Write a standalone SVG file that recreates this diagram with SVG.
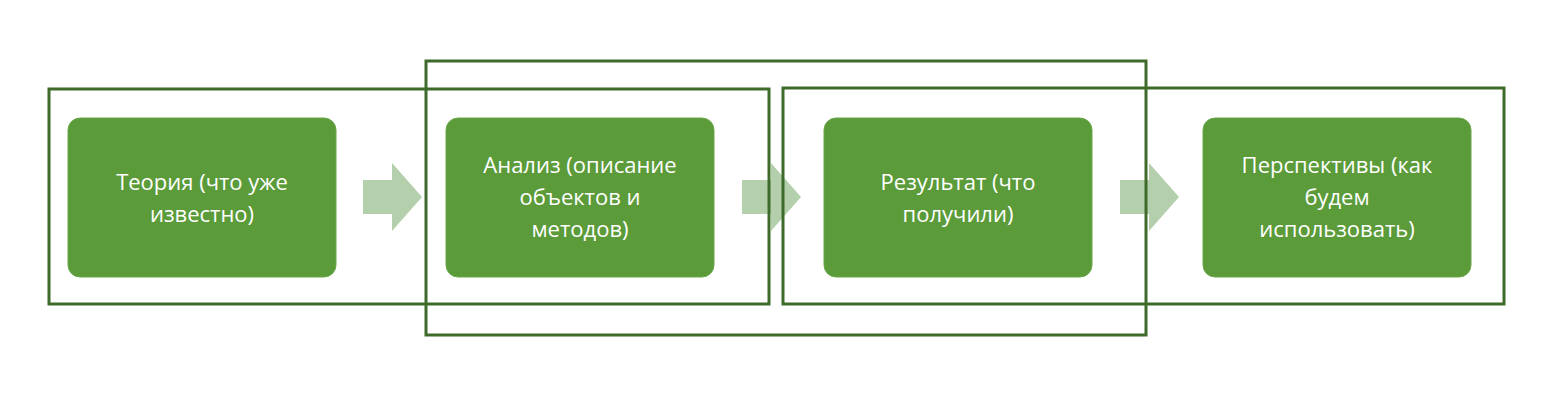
<svg xmlns="http://www.w3.org/2000/svg" width="1552" height="416" viewBox="0 0 1552 416">
<style>
.frame{fill:none;stroke:#3f6b2a;stroke-width:3}
.box{fill:#5b9b3a;stroke:#6aa84a;stroke-width:1}
.t{font-family:"Open Sans","Liberation Sans",sans-serif;font-size:22px;fill:#fff;text-anchor:middle}
.arr{fill:#b3cfab}
</style>
<rect width="1552" height="416" fill="#fff"/>
<g id="connectors">
<path class="arr" d="M363 180H392V163L422 197L392 231V214H363Z"/>
<path class="arr" d="M742 180H771V163L801 197L771 231V214H742Z"/>
<path class="arr" d="M1120 180H1149V163L1179 197L1149 231V214H1120Z"/>
</g>
<g id="n1"><rect class="box" x="68" y="118" width="268" height="159" rx="12"/>
<text class="t" x="202" y="190">Теория (что уже</text><text class="t" x="202" y="222">известно)</text></g>
<g id="n2"><rect class="box" x="446" y="118" width="268" height="159" rx="12"/>
<text class="t" x="580" y="173">Анализ (описание</text><text class="t" x="580" y="205">объектов и</text><text class="t" x="580" y="237">методов)</text></g>
<g id="n3"><rect class="box" x="824" y="118" width="268" height="159" rx="12"/>
<text class="t" x="958" y="190">Результат (что</text><text class="t" x="958" y="222">получили)</text></g>
<g id="n4"><rect class="box" x="1203" y="118" width="268" height="159" rx="12"/>
<text class="t" x="1337" y="173">Перспективы (как</text><text class="t" x="1337" y="205">будем</text><text class="t" x="1337" y="237">использовать)</text></g>
<g id="frames">
<rect class="frame" x="49" y="89" width="720" height="215"/>
<rect class="frame" x="426" y="61" width="720" height="274"/>
<rect class="frame" x="783" y="88" width="721" height="216"/>
</g>
</svg>
